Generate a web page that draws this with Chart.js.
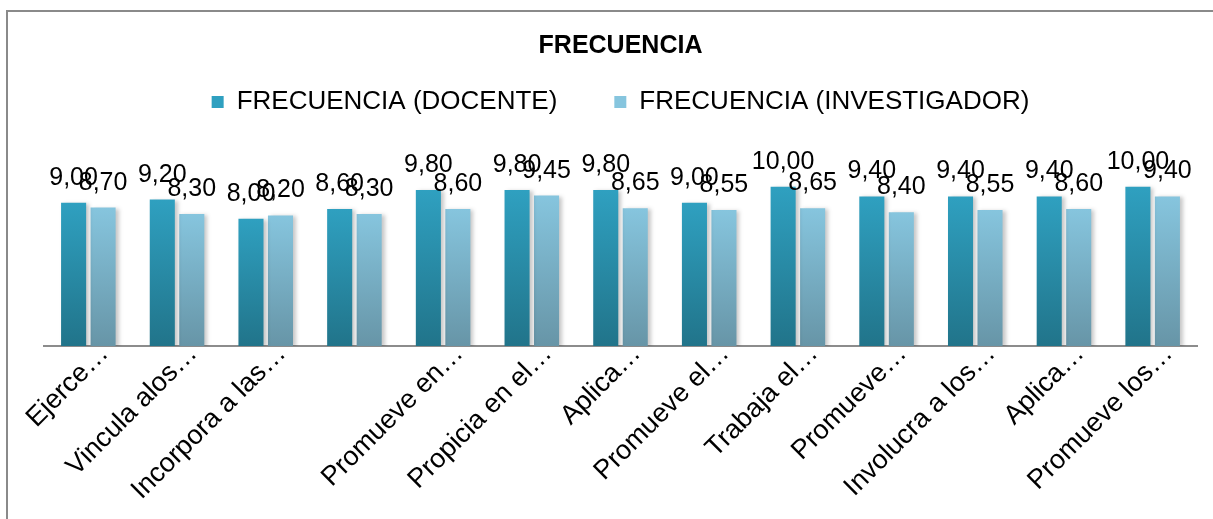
<!DOCTYPE html>
<html>
<head>
<meta charset="utf-8">
<script src="https://cdn.jsdelivr.net/npm/chart.js@4.4.1/dist/chart.umd.min.js"></script>
<style>
  html, body { margin: 0; padding: 0; background: #fff; }
  #wrap { position: relative; width: 1213px; height: 519px; }
  #marco { position: absolute; left: 6px; top: 10px; right: 0; bottom: 0;
           border-left: 2px solid #8a8a8a; border-top: 2px solid #8a8a8a; pointer-events: none; }
  canvas { display: block; }
</style>
</head>
<body>
<div id="wrap">
  <canvas id="frecuenciaChart"></canvas>
  <div id="marco"></div>
</div>
<script>
// datos
const categorias = ['Ejerce…', 'Vincula alos…', 'Incorpora a las…', '', 'Promueve en…', 'Propicia en el…',
  'Aplica…', 'Promueve el…', 'Trabaja el…', 'Promueve…', 'Involucra a los…', 'Aplica…', 'Promueve los…'];
const docente = [9.00, 9.20, 8.00, 8.60, 9.80, 9.80, 9.80, 9.00, 10.00, 9.40, 9.40, 9.40, 10.00];
const investigador = [8.70, 8.30, 8.20, 8.30, 8.60, 9.45, 8.65, 8.55, 8.65, 8.40, 8.55, 8.60, 9.40];
const series = ['FRECUENCIA (DOCENTE)', 'FRECUENCIA (INVESTIGADOR)'];
const ejeY = [0, 12];

const fuente = '"Liberation Sans", Arial, sans-serif';
const fmt = v => v.toFixed(2).replace('.', ',');

// degradado vertical por barra
function degradado(arriba, abajo, solido) {
    return (c) => {
        const chart = c.chart;
        const area = chart.chartArea;
        if (!area || c.type !== 'data' || !c.parsed) return solido;
        const y = chart.scales.y.getPixelForValue(c.parsed.y);
        const g = chart.ctx.createLinearGradient(0, y, 0, area.bottom);
        g.addColorStop(0, arriba);
        g.addColorStop(1, abajo);
        return g;
    };
}

// sombra suave a la derecha de las barras
const sombra = {
    id: 'sombra',
    beforeDatasetsDraw(chart) {
        const ctx = chart.ctx;
        ctx.save();
        ctx.shadowColor = 'rgba(0,0,0,0.22)';
        ctx.shadowBlur = 4;
        ctx.shadowOffsetX = 3;
        ctx.shadowOffsetY = 1;
    },
    afterDatasetsDraw(chart) {
        chart.ctx.restore();
    }
};

// valores encima de cada barra
const etiquetasValor = {
    id: 'etiquetasValor',
    afterDatasetsDraw(chart) {
        const ctx = chart.ctx;
        ctx.save();
        ctx.font = '25px ' + fuente;
        ctx.fillStyle = '#000';
        ctx.textAlign = 'center';
        ctx.textBaseline = 'alphabetic';
        chart.data.datasets.forEach((ds, i) => {
            chart.getDatasetMeta(i).data.forEach((bar, j) => {
                ctx.fillText(fmt(ds.data[j]), bar.x, bar.y - 18);
            });
        });
        ctx.restore();
    }
};

// espacio extra debajo de la leyenda
const espacioLeyenda = {
    id: 'espacioLeyenda',
    beforeLayout(chart) {
        const lg = chart.legend;
        if (lg && !lg._extra) {
            const fit = lg.fit;
            lg.fit = function () { fit.call(this); this.height += 30; };
            lg._extra = true;
        }
    }
};

const ctx = document.getElementById('frecuenciaChart');

new Chart(ctx, {
    type: 'bar',
    data: {
        labels: categorias,
        datasets: [{
            label: series[0],
            data: docente,
            backgroundColor: degradado('#2fa0c0', '#21748a', '#2a8fab'),
            categoryPercentage: 0.665,
            barPercentage: 0.85
        }, {
            label: series[1],
            data: investigador,
            backgroundColor: degradado('#86c5de', '#6795a7', '#78adc2'),
            categoryPercentage: 0.665,
            barPercentage: 0.85
        }]
    },
    options: {
        responsive: true,
        maintainAspectRatio: false,
        animation: false,
        layout: { padding: { top: 10, left: 44, right: 16, bottom: 0 } },
        plugins: {
            title: {
                display: true,
                text: 'FRECUENCIA',
                color: '#000',
                font: { family: fuente, size: 25, weight: 'bold' },
                padding: { top: 21, bottom: -29 }
            },
            legend: {
                display: true,
                labels: {
                    color: '#000',
                    font: { family: fuente, size: 26 },
                    boxWidth: 12,
                    boxHeight: 12,
                    padding: 57
                }
            },
            tooltip: { enabled: false }
        },
        scales: {
            x: {
                grid: { display: false, drawTicks: false },
                border: { display: true, color: '#8c8c8c', width: 2 },
                ticks: {
                    color: '#000',
                    font: { family: fuente, size: 27 },
                    autoSkip: false,
                    minRotation: 45,
                    maxRotation: 45,
                    labelOffset: 16,
                    padding: -8
                },
                afterFit(scale) { scale.height = 173; }
            },
            y: {
                display: false,
                min: ejeY[0],
                max: ejeY[1]
            }
        }
    },
    plugins: [sombra, etiquetasValor, espacioLeyenda]
});
</script>
</body>
</html>
